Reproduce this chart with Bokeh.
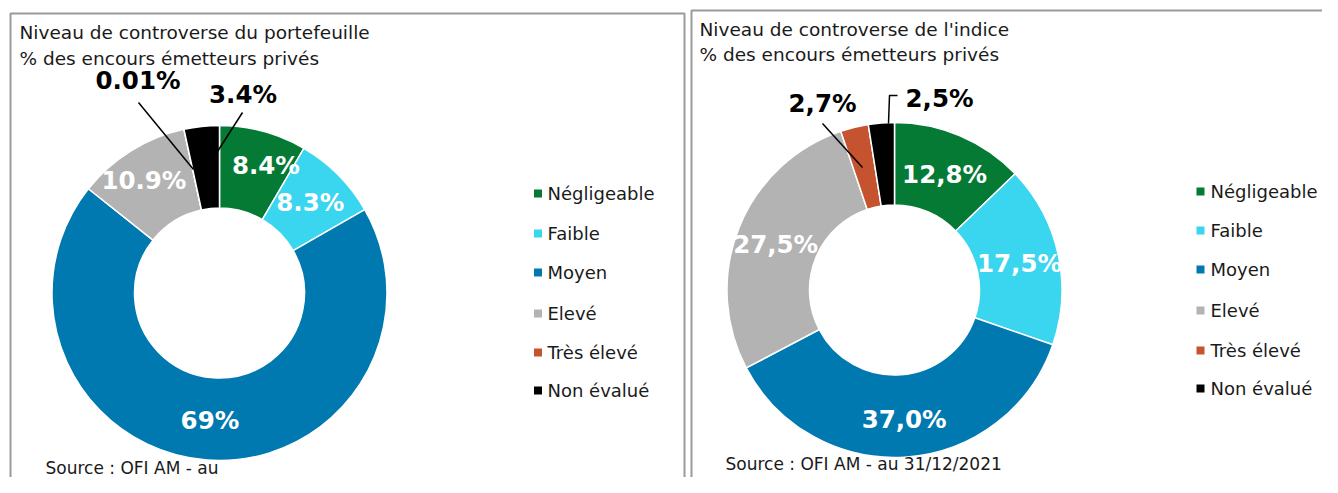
import numpy as np
from bokeh.plotting import figure
from bokeh.models import Range1d
from bokeh.core.properties import value
from bokeh.embed import file_html
from bokeh.resources import INLINE

# ---------------- data ----------------
categories = ["Négligeable", "Faible", "Moyen", "Elevé", "Très élevé", "Non évalué"]
colors = ["#047a35", "#3ad5ee", "#0078b0", "#b3b3b3", "#c5532f", "#000000"]
portfolio_values = [8.4, 8.3, 69.0, 10.9, 0.01, 3.4]
portfolio_labels = ["8.4%", "8.3%", "69%", "10.9%", "0.01%", "3.4%"]
index_values = [12.8, 17.5, 37.0, 27.5, 2.7, 2.5]
index_labels = ["12,8%", "17,5%", "37,0%", "27,5%", "2,7%", "2,5%"]

titles_left = ["Niveau de controverse du portefeuille", "% des encours émetteurs privés"]
titles_right = ["Niveau de controverse de l'indice", "% des encours émetteurs privés"]
source_left = "Source : OFI AM - au"
source_right = "Source : OFI AM - au 31/12/2021"

# ---------------- layout ----------------
W, H = 1322, 477
FONT = value("DejaVu Sans")


def Y(ypix):
    return H - ypix


p = figure(width=W, height=H, x_range=Range1d(0, W), y_range=Range1d(0, H),
           output_backend="svg", toolbar_location=None, min_border=0)
p.axis.visible = False
p.grid.visible = False
p.outline_line_color = None
p.background_fill_color = "white"
p.border_fill_color = "white"

# panel borders
border_col = "#9a9a9a"
p.line([10, 10, 684, 684], [Y(500), Y(13), Y(13), Y(500)], line_color=border_col, line_width=2)
p.line([691, 691, 1340], [Y(500), Y(10), Y(10)], line_color=border_col, line_width=2)


def donut(cx, cy, vals, labels, inner_nudges, outer_pos, leaders):
    vals = np.array(vals, dtype=float)
    frac = vals / vals.sum()
    cum_end = np.cumsum(frac)
    cum_start = cum_end - frac
    start = np.pi / 2 - 2 * np.pi * cum_end
    end = np.pi / 2 - 2 * np.pi * cum_start
    p.annular_wedge(x=cx, y=Y(cy), inner_radius=85, outer_radius=167.5,
                    start_angle=start, end_angle=end, direction="anticlock",
                    fill_color=colors, line_color="white", line_width=1.5)
    mid = 2 * np.pi * (cum_start + cum_end) / 2
    r = 128
    xs, ys, txt = [], [], []
    for i, lab in enumerate(labels):
        if i in inner_nudges:
            dx, dy = inner_nudges[i]
            xs.append(cx + r * np.sin(mid[i]) + dx)
            ys.append(Y(cy) + r * np.cos(mid[i]) + dy)
            txt.append(lab)
    p.text(x=xs, y=ys, text=txt, text_color="white", text_font=FONT,
           text_font_style="bold", text_font_size="24.5px",
           text_align="center", text_baseline="middle")
    ox, oy, ot = [], [], []
    for i, (x, yc) in outer_pos.items():
        ox.append(x); oy.append(Y(yc)); ot.append(labels[i])
    p.text(x=ox, y=oy, text=ot, text_color="black", text_font=FONT,
           text_font_style="bold", text_font_size="24.5px",
           text_align="center", text_baseline="middle")
    for pts in leaders:
        p.line([q[0] for q in pts], [Y(q[1]) for q in pts], line_color="black", line_width=1.5)


donut(219, 292.5, portfolio_values, portfolio_labels,
      {0: (13, 4), 1: (0, 0), 2: (0, 0), 3: (-8, 4)},
      {4: (137.5, 80), 5: (242.5, 94)},
      [[(138, 102), (193, 169)], [(242, 112), (217, 151)]])

donut(894, 289.5, index_values, index_labels,
      {0: (0, -2), 1: (0, -1), 2: (0, -2), 3: (0, -2)},
      {4: (822, 103), 5: (939, 98)},
      [[(822, 123), (862, 167)], [(897, 95), (889, 95), (888, 123)]])

# titles
for (x0, ys, lines) in [(19, [32, 58], titles_left), (699, [28.5, 53.5], titles_right)]:
    p.text(x=[x0, x0], y=[Y(v) for v in ys], text=lines, text_font=FONT,
           text_font_size="18.5px", text_color="#1a1a1a", text_align="left",
           text_baseline="middle")

# legends
def legend(xsq, xtxt, rows):
    p.scatter(x=[xsq] * len(categories), y=[Y(r) for r in rows], marker="square",
              size=8, fill_color=colors, line_color=None)
    p.text(x=[xtxt] * len(categories), y=[Y(r) for r in rows], text=categories,
           text_font=FONT, text_font_size="18px", text_color="#1a1a1a",
           text_align="left", text_baseline="middle")

legend(537.5, 547, [193, 233, 272, 313, 352, 390])
legend(1200, 1210, [191, 230, 269, 310, 350, 388])

# sources
p.text(x=[45, 725], y=[Y(467), Y(463)], text=[source_left, source_right], text_font=FONT,
       text_font_size="17px", text_color="#1a1a1a", text_align="left",
       text_baseline="middle")

open("out.html", "w").write(file_html(p, INLINE))
